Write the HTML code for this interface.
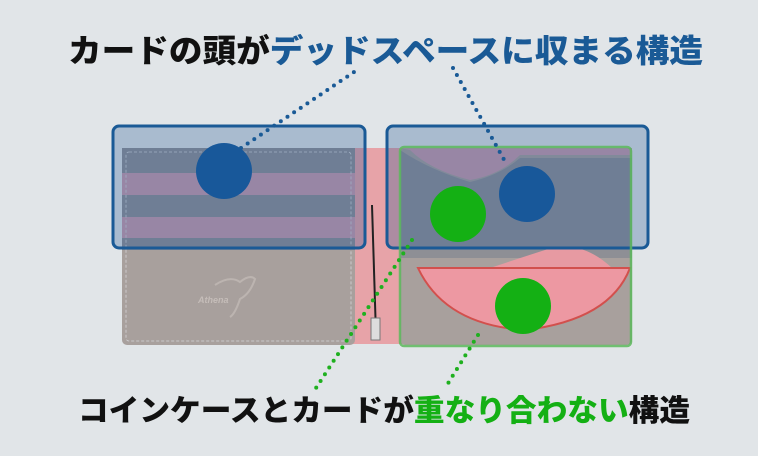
<!DOCTYPE html>
<html><head><meta charset="utf-8"><style>
html,body{margin:0;padding:0;background:#e1e5e8;}
svg{display:block}
text{font-family:"Liberation Sans","Noto Sans CJK JP",sans-serif;font-weight:900;}
</style></head><body>
<svg width="758" height="456" viewBox="0 0 758 456" xmlns="http://www.w3.org/2000/svg">
<rect width="758" height="456" fill="#e1e5e8"/>
<rect x="350" y="148" width="56" height="196" fill="#e7a3a8"/>
<line x1="353" y1="152" x2="353" y2="340" stroke="#f4d0d3" stroke-dasharray="3 2"/>
<line x1="403" y1="152" x2="403" y2="340" stroke="#f4d0d3" stroke-dasharray="3 2"/>
<line x1="372" y1="205" x2="376" y2="335" stroke="#222" stroke-width="2"/>
<rect x="371" y="318" width="9" height="22" fill="#ddd" stroke="#777" stroke-width="1"/>
<rect x="122" y="148" width="233" height="197" rx="5" fill="#a8a09d"/>
<rect x="122" y="148" width="233" height="25" fill="#8e8f95"/>
<rect x="122" y="173" width="233" height="22" fill="#c99aac"/>
<rect x="122" y="195" width="233" height="22" fill="#8e8f95"/>
<rect x="122" y="217" width="233" height="21" fill="#c99aac"/>
<rect x="122" y="238" width="233" height="12" fill="#8e8f95"/>
<rect x="126" y="152" width="225" height="189" rx="3" fill="none" stroke="#d4d4d8" stroke-dasharray="3 2" stroke-width="0.8"/>
<text x="198" y="303" font-size="9" fill="#c5bdb9" font-style="italic" font-weight="400">Athena</text>
<path d="M215 285 q15 -10 25 -3 q10 -8 15 -3 q-5 15 -15 20 q-5 15 -10 18" fill="none" stroke="#bcb4b0" stroke-width="2"/>
<rect x="400" y="148" width="232" height="197" rx="5" fill="#a8a09d"/>
<path d="M400 148 H632 V155 H520 Q500 175 470 180 Q430 170 410 150 Z" fill="#c99aac"/>
<path d="M400 150 Q430 170 470 182 Q500 175 520 158 H632 V258 H400 Z" fill="#8e8f95"/>
<path d="M490 268 Q520 258 545 250 Q580 238 612 268 Z" fill="#e79aa2"/>
<path d="M418 268 H630 Q610 320 525 330 Q445 325 418 268 Z" fill="#ed98a2" stroke="#d2504d" stroke-width="2"/>
<rect x="113" y="126" width="252" height="122" rx="6" fill="rgba(40,90,150,0.3)" stroke="#1a5a96" stroke-width="3"/>
<rect x="387" y="126" width="261" height="122" rx="6" fill="rgba(40,90,150,0.3)" stroke="#1a5a96" stroke-width="3"/>
<rect x="400" y="147" width="231" height="199" rx="4" fill="none" stroke="#5cb85c" stroke-width="2.5" opacity="0.85"/>
<line x1="241" y1="148" x2="360" y2="68" stroke="#1a5a96" stroke-width="4" stroke-linecap="round" stroke-dasharray="0 8"/>
<line x1="453" y1="68" x2="507" y2="165" stroke="#1a5a96" stroke-width="4" stroke-linecap="round" stroke-dasharray="0 8"/>
<line x1="412" y1="240" x2="316" y2="388" stroke="#1fb01f" stroke-width="4" stroke-linecap="round" stroke-dasharray="0 8"/>
<line x1="478" y1="335" x2="447" y2="385" stroke="#1fb01f" stroke-width="4" stroke-linecap="round" stroke-dasharray="0 8"/>
<circle cx="224" cy="171" r="28" fill="#18589a"/>
<circle cx="527" cy="194" r="28" fill="#18589a"/>
<circle cx="458" cy="214" r="28" fill="#14b014"/>
<circle cx="523" cy="306" r="28" fill="#14b014"/>
<text x="68" y="62" font-size="32" textLength="635" lengthAdjust="spacingAndGlyphs"><tspan fill="#111">カードの頭が</tspan><tspan fill="#1a5a96">デッドスペースに収まる構造</tspan></text>
<text x="78" y="421" font-size="30" textLength="612" lengthAdjust="spacingAndGlyphs"><tspan fill="#111">コインケースとカードが</tspan><tspan fill="#14b014">重なり合わない</tspan><tspan fill="#111">構造</tspan></text>
</svg>
</body></html>
